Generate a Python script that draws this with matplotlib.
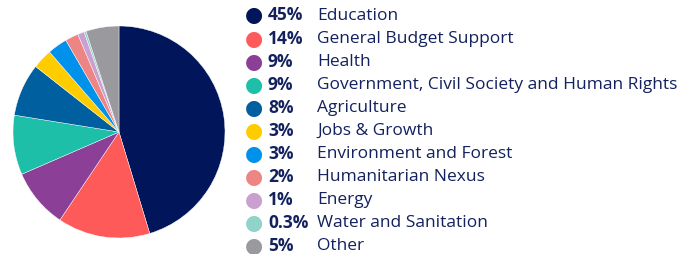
import matplotlib.pyplot as plt

plt.rcParams['font.family'] = ['Open Sans', 'Noto Sans', 'DejaVu Sans']

# Data.
categories = ['Education', 'General Budget Support', 'Health',
              'Government, Civil Society and Human Rights', 'Agriculture',
              'Jobs & Growth', 'Environment and Forest', 'Humanitarian Nexus',
              'Energy', 'Water and Sanitation', 'Other']
shares = [45, 14, 9, 9, 8, 3, 3, 2, 1, 0.3, 5]
share_labels = ['45%', '14%', '9%', '9%', '8%', '3%', '3%', '2%', '1%', '0.3%', '5%']
colors = ['#00155a', '#ff5a5a', '#8b3f96', '#1dbfa8', '#005f9e', '#ffcc00',
          '#0091ea', '#ee8585', '#c9a0d0', '#8fd3c9', '#9a9a9e']
text_color = '#13215e'

W, H = 695, 255
fig = plt.figure(figsize=(W / 100, H / 100), dpi=100)

# Pie axes, placed in pixel terms.
cx, cy, r = 119, 133, 106
ax = fig.add_axes([(cx - r) / W, (H - cy - r) / H, 2 * r / W, 2 * r / H])
ax.pie(shares, colors=colors, startangle=90, counterclock=False,
       wedgeprops=dict(edgecolor='white', linewidth=0.3))
ax.set_xlim(-1, 1)
ax.set_ylim(-1, 1)
ax.set_aspect('equal')
ax.axis('off')

# Legend drawn as text rows.
y0, dy = 15.5, 23.1
for i, (lab, pct, col) in enumerate(zip(categories, share_labels, colors)):
    y = 1 - (y0 + i * dy) / H
    fig.text(254 / W, y, '\u25cf', color=col, fontsize=15, ha='center', va='center',
             family='DejaVu Sans')
    fig.text(268 / W, y, pct, color=text_color, fontsize=12.5, fontweight='bold',
             ha='left', va='center')
    fig.text(317 / W, y, lab, color=text_color, fontsize=12.5, ha='left', va='center')

fig.savefig('out.png', dpi=100)
